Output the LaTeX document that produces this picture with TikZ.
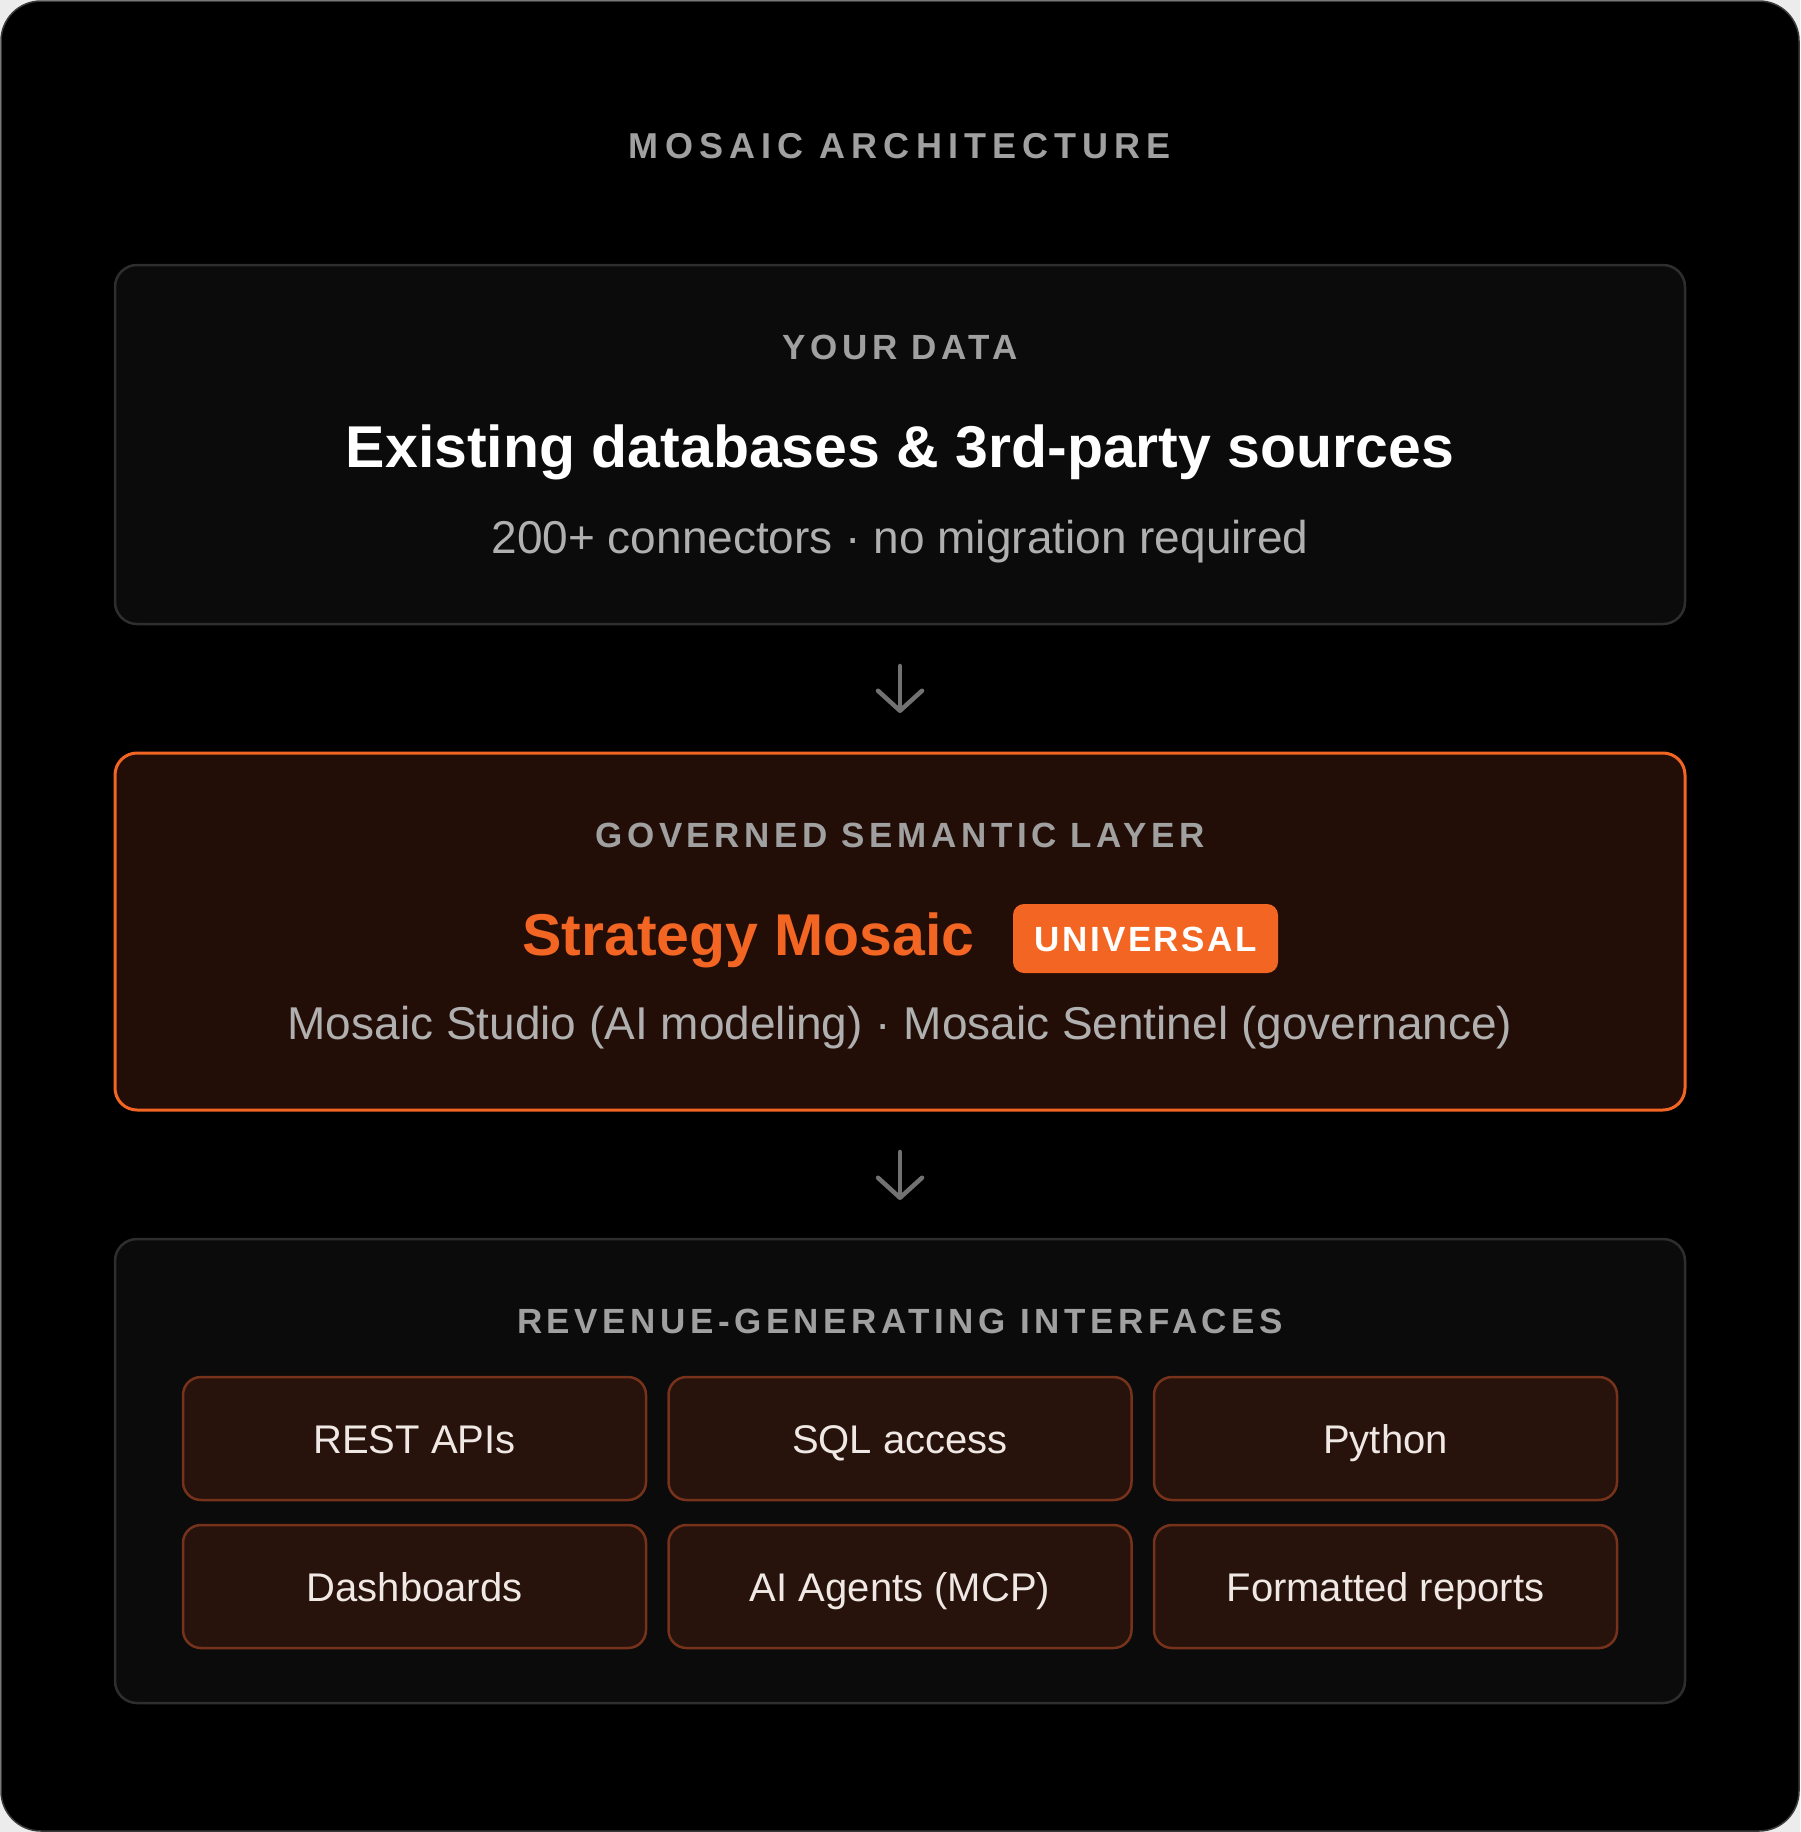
\documentclass[tikz,border=0pt]{standalone}
\usepackage{fontspec}
\setmainfont{Liberation Sans}
\newfontfamily\trk[LetterSpace=13]{Liberation Sans}
\newfontfamily\trkt[LetterSpace=17]{Liberation Sans}
\newfontfamily\trkb[LetterSpace=7]{Liberation Sans}
\usetikzlibrary{arrows.meta}
\definecolor{pagebg}{HTML}{ECECEC}
\definecolor{framedraw}{HTML}{3A3A3A}
\definecolor{panelfill}{HTML}{0B0B0B}
\definecolor{paneldraw}{HTML}{2E2E2E}
\definecolor{brownfill}{HTML}{230E07}
\definecolor{orange}{HTML}{F26522}
\definecolor{tilefill}{HTML}{27130C}
\definecolor{tiledraw}{HTML}{76321A}
\definecolor{headgray}{HTML}{A0A0A0}
\definecolor{subgray}{HTML}{B0B0B0}
\definecolor{arrowgray}{HTML}{727272}
\definecolor{tiletext}{HTML}{F0E8E4}
\begin{document}
\begin{tikzpicture}[x=1pt,y=-1pt,
  frame/.style={draw=framedraw, line width=1.5pt, fill=black, rounded corners=40pt,
    minimum width=1798pt, minimum height=1830pt, inner sep=0pt, outer sep=0pt},
  panel/.style={draw=paneldraw, line width=2.5pt, fill=panelfill, rounded corners=22pt,
    minimum width=1570pt, inner sep=0pt, outer sep=0pt},
  hotpanel/.style={draw=orange, line width=3pt, fill=brownfill, rounded corners=22pt,
    minimum width=1570pt, inner sep=0pt, outer sep=0pt},
  tile/.style={draw=tiledraw, line width=2.5pt, fill=tilefill, rounded corners=18pt,
    minimum width=463pt, minimum height=123pt, inner sep=0pt, outer sep=0pt,
    text=tiletext, font=\fontsize{40}{46}\selectfont, text height=29pt, text depth=0pt},
  badge/.style={fill=orange, rounded corners=11pt, minimum width=265pt, minimum height=69pt,
    inner sep=0pt, text=white, font=\trkb\bfseries\fontsize{35}{40}\selectfont,
    text height=25pt, text depth=0pt},
  maintitle/.style={anchor=base, inner sep=0pt, text=headgray, font=\trkt\bfseries\fontsize{36}{40}\selectfont},
  heading/.style={anchor=base, inner sep=0pt, text=headgray, font=\trk\bfseries\fontsize{35}{40}\selectfont},
  bigtext/.style={anchor=base, inner sep=0pt, font=\bfseries\fontsize{59}{68}\selectfont},
  subtext/.style={anchor=base, inner sep=0pt, text=subgray, font=\fontsize{46}{54}\selectfont},
  flow/.style={draw=arrowgray, line width=4.5pt, line cap=round, line join=round,
    -{Straight Barb[length=20pt, width=44pt, line width=4.5pt, round]}}
]
\useasboundingbox (0,0) rectangle (1800,1832);
\fill[pagebg] (0,0) rectangle (1800,1832);
\node[frame] (outer) at (900,916) {};

\node[maintitle] (title) at (900,158) {MOSAIC ARCHITECTURE};

% top panel
\node[panel, minimum height=359pt] (b1) at (900,444.5) {};
\node[heading] (h1) at (900,359) {YOUR DATA};
\node[bigtext, text=white] (t1) at (900,467) {Existing databases \& 3rd-party sources};
\node[subtext] (s1) at (900,553) {200+ connectors · no migration required};

% middle panel
\node[hotpanel, minimum height=357pt] (b2) at (900,931.5) {};
\node[heading] (h2) at (900,847) {GOVERNED SEMANTIC LAYER};
\node[bigtext, text=orange, anchor=base east] (t2) at (975,955) {Strategy Mosaic};
\node[badge] (u2) at (1145.5,938.5) {UNIVERSAL};
\node[subtext] (s2) at (900,1039) {Mosaic Studio (AI modeling) · Mosaic Sentinel (governance)};

% bottom panel
\node[panel, minimum height=464pt] (b3) at (900,1471) {};
\node[heading] (h3) at (900,1333) {REVENUE-GENERATING INTERFACES};
\node[tile] (rest) at (414.5,1438.5) {REST APIs};
\node[tile] (sql) at (900,1438.5) {SQL access};
\node[tile] (py) at (1385.5,1438.5) {Python};
\node[tile] (dash) at (414.5,1586.5) {Dashboards};
\node[tile] (agents) at (900,1586.5) {AI Agents (MCP)};
\node[tile] (reports) at (1385.5,1586.5) {Formatted reports};

% arrows
\draw[flow] ([yshift=-42pt]b1.south) -- ([yshift=40pt]b2.north);
\draw[flow] ([yshift=-42pt]b2.south) -- ([yshift=39pt]b3.north);
\end{tikzpicture}
\end{document}
